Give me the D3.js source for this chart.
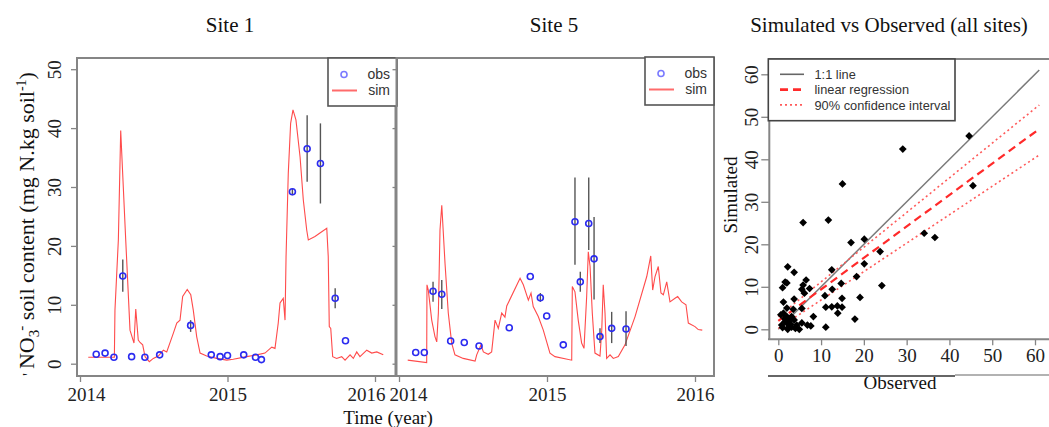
<!DOCTYPE html>
<html><head><meta charset="utf-8">
<script src="https://cdn.jsdelivr.net/npm/d3@7"></script>
<style>
body{margin:0;background:#fff;}
svg{display:block;}
text{font-family:"Liberation Serif","Times New Roman",serif;fill:#222;}
.sans{font-family:"Liberation Sans",Arial,sans-serif;fill:#333;}
</style></head>
<body>
<svg id="c" width="1049" height="427"></svg>
<script>
// ---------------- DATA ----------------
const panelTitles = ["Site 1", "Site 5", "Simulated vs Observed (all sites)"];
const yearTicks = [2014, 2015, 2016];
const concTicks = [0, 10, 20, 30, 40, 50];
const scatterTicks = [0, 10, 20, 30, 40, 50, 60];

// Site 1 observations (year, value, error low, error high)
const obs1Dates  = [2014.11, 2014.17, 2014.23, 2014.29, 2014.35, 2014.44, 2014.54, 2014.75, 2014.89, 2014.95, 2015.00, 2015.11, 2015.19, 2015.23, 2015.44, 2015.54, 2015.63, 2015.73, 2015.80];
const obs1Values = [1.6, 1.8, 1.1, 14.9, 1.2, 1.1, 1.5, 6.5, 1.5, 1.2, 1.4, 1.5, 1.1, 0.7, 29.2, 36.5, 34.0, 11.1, 3.9];
const obs1Low    = [null, null, null, 12.2, null, null, null, 5.4, null, null, null, null, null, null, 28.6, 30.9, 27.2, 9.4, null];
const obs1High   = [null, null, null, 17.7, null, null, null, 7.4, null, null, null, null, null, null, 29.7, 42.2, 40.8, 12.8, null];

// Site 1 simulation
const sim1Dates = [2014.056, 2014.233, 2014.237, 2014.260, 2014.276, 2014.288, 2014.310, 2014.339, 2014.366, 2014.378, 2014.395, 2014.407, 2014.425, 2014.441, 2014.470, 2014.497, 2014.531, 2014.565, 2014.588, 2014.633, 2014.656, 2014.678, 2014.696, 2014.727, 2014.751, 2014.768, 2014.791, 2014.814, 2014.859, 2014.927, 2014.995, 2015.039, 2015.130, 2015.198, 2015.254, 2015.300, 2015.322, 2015.344, 2015.356, 2015.378, 2015.390, 2015.397, 2015.412, 2015.428, 2015.444, 2015.464, 2015.492, 2015.514, 2015.537, 2015.548, 2015.593, 2015.639, 2015.673, 2015.683, 2015.690, 2015.700, 2015.713, 2015.740, 2015.774, 2015.797, 2015.831, 2015.853, 2015.876, 2015.898, 2015.944, 2015.978, 2016.012, 2016.056];
const sim1Values = [1.1, 1.1, 9.1, 21.0, 39.6, 33.0, 21.0, 5.7, 3.5, 9.3, 4.0, 3.6, 3.2, 1.2, 0.35, 0.9, 1.3, 2.3, 2.0, 5.2, 6.9, 7.4, 11.4, 12.6, 11.7, 9.1, 4.6, 1.8, 1.3, 0.9, 0.6, 0.75, 1.2, 1.5, 1.8, 2.8, 2.6, 6.9, 10.3, 11.1, 7.4, 18.2, 32.3, 40.8, 43.1, 41.4, 35.1, 27.8, 22.7, 21.0, 21.6, 22.4, 23.0, 18.2, 6.3, 6.0, 1.2, 0.9, 1.2, 0.6, 1.5, 0.9, 2.0, 1.2, 2.3, 1.8, 2.0, 1.5];

// Site 5 observations
const obs5Dates  = [2014.113, 2014.171, 2014.230, 2014.289, 2014.349, 2014.441, 2014.541, 2014.745, 2014.887, 2014.955, 2014.998, 2015.110, 2015.189, 2015.225, 2015.282, 2015.318, 2015.358, 2015.437, 2015.534];
const obs5Values = [1.9, 1.9, 12.3, 11.8, 3.85, 3.6, 3.0, 6.1, 14.8, 11.2, 8.1, 3.2, 24.1, 13.9, 23.8, 17.8, 4.6, 6.0, 5.9];
const obs5Low    = [null, null, 10.5, 9.3, null, null, null, null, null, 10.5, null, null, 16.8, 12.2, 19.3, 10.9, 3.5, 3.5, 3.0];
const obs5High   = [null, null, 13.9, 14.2, null, null, null, null, null, 12.0, null, null, 31.6, 15.6, 31.6, 24.9, 6.0, 8.8, 8.9];

// Site 5 simulation
const sim5Dates = [2014.059, 2014.187, 2014.189, 2014.198, 2014.221, 2014.243, 2014.255, 2014.266, 2014.277, 2014.289, 2014.311, 2014.333, 2014.356, 2014.378, 2014.434, 2014.514, 2014.525, 2014.554, 2014.570, 2014.603, 2014.626, 2014.649, 2014.671, 2014.694, 2014.716, 2014.728, 2014.818, 2014.840, 2014.874, 2014.892, 2014.907, 2014.941, 2014.975, 2015.020, 2015.054, 2015.167, 2015.171, 2015.189, 2015.211, 2015.234, 2015.250, 2015.268, 2015.279, 2015.291, 2015.306, 2015.324, 2015.358, 2015.370, 2015.380, 2015.392, 2015.403, 2015.426, 2015.448, 2015.482, 2015.527, 2015.595, 2015.674, 2015.701, 2015.714, 2015.730, 2015.752, 2015.770, 2015.786, 2015.809, 2015.831, 2015.865, 2015.883, 2015.910, 2015.939, 2015.955, 2016.000, 2016.022, 2016.049];
const sim5Values = [0.6, 0.2, 13.4, 12.5, 7.4, 4.6, 3.7, 8.6, 22.7, 26.9, 17.0, 8.6, 3.5, 1.5, 0.9, 0.45, 1.5, 3.2, 2.0, 1.6, 2.0, 7.4, 6.0, 8.6, 7.9, 9.8, 14.5, 13.4, 10.8, 12.0, 9.7, 8.0, 5.7, 1.8, 1.2, 0.6, 13.1, 12.2, 7.4, 3.5, 2.6, 11.4, 19.0, 16.5, 8.6, 1.8, 1.3, 5.7, 13.4, 8.6, 0.9, 1.5, 0.9, 1.2, 3.2, 8.0, 14.8, 18.3, 12.5, 14.8, 16.5, 12.0, 11.7, 13.9, 10.5, 11.1, 11.4, 10.5, 10.0, 6.9, 6.3, 5.8, 5.7];

// Scatter: observed vs simulated (all sites)
const scatObserved  = [44.6, 29.1, 15.0, 45.5, 5.8, 11.7, 34.1, 36.6, 20.1, 17.0, 23.8, 20.1, 24.2, 18.3, 12.5, 14.7, 12.6, 10.9, 19.1, 14.9, 11.1, 12.5, 13.8, 14.9, 13.9, 17.9, 11.1, 2.2, 3.7, 1.6, 2.0, 1.0, 5.5, 5.8, 6.5, 7.3, 6.1, 1.2, 3.7, 3.5, 5.5, 8.2, 1.2, 2.0, 0.8, 1.6, 2.3, 3.1, 4.3, 4.9, 6.8, 7.6, 2.2, 2.7, 3.1, 3.7, 0.6, 1.5, 2.5, 1.0, 4.0, 5.5, 2.0, 1.8, 2.9];
const scatSimulated = [45.5, 42.4, 34.2, 33.8, 25.1, 25.7, 22.6, 21.6, 21.2, 20.4, 18.3, 15.4, 10.3, 12.4, 14.0, 10.8, 9.4, 7.9, 7.5, 7.3, 5.2, 5.3, 5.5, 5.2, 3.8, 2.4, 0.5, 14.7, 13.4, 11.1, 10.9, 9.8, 9.4, 10.4, 11.6, 9.6, 8.5, 6.4, 7.1, 4.7, 4.9, 3.0, 3.8, 3.0, 1.0, 1.8, 1.4, 0.5, 1.0, 0.0, 1.0, 0.8, 0.0, 2.2, 3.0, 2.2, 3.4, 2.5, 0.8, 0.4, 0.2, 1.5, 5.0, 2.0, 1.2];

// Reference lines: [intercept, slope] over observed 0..61
const lineRange = [0, 61];
const oneToOne = [0, 1];
const regression = [2.0, 0.74];
const ciUpper = [3.0, 0.816];
const ciLower = [0.2, 0.669];

const legendSite = ["obs", "sim"];
const legendScatter = ["1:1 line", "linear regression", "90% confidence interval"];

// ---------------- DRAW ----------------
const svg = d3.select("#c");
const frameCol = "#858585";
const simCol = "#ff4b4b";
const obsCol = "#2b2bf0";

// titles
const titleX = [230, 554, 889];
svg.selectAll("text.title").data(panelTitles).join("text")
  .attr("class", "title").attr("x", (d, i) => titleX[i]).attr("y", 32)
  .attr("text-anchor", "middle").style("font-size", "21px").style("fill", "#111").text(d => d);

const yConc = d3.scaleLinear().domain([0, 50]).range([363.7, 69.2]);
const x1 = d3.scaleLinear().domain([2014, 2016]).range([80, 375]);
const x5 = d3.scaleLinear().domain([2014, 2016]).range([399, 695]);

function sitePanel(xs, box, obsD, obsV, obsL, obsH, simD, simV, labelDx, showYLabels, legendBox) {
  const g = svg.append("g");
  const simPts = simD.map((d, i) => [d, simV[i]]);
  g.append("path").datum(simPts)
    .attr("fill", "none").attr("stroke", simCol).attr("stroke-width", 1.1)
    .attr("d", d3.line().x(d => xs(d[0])).y(d => yConc(d[1])));
  const obs = obsD.map((d, i) => ({d, v: obsV[i], lo: obsL[i], hi: obsH[i]}));
  g.selectAll("line.err").data(obs.filter(o => o.lo != null)).join("line")
    .attr("x1", o => xs(o.d)).attr("x2", o => xs(o.d))
    .attr("y1", o => yConc(o.lo)).attr("y2", o => yConc(o.hi))
    .attr("stroke", "#555").attr("stroke-width", 1.4);
  g.selectAll("circle.obs").data(obs).join("circle")
    .attr("cx", o => xs(o.d)).attr("cy", o => yConc(o.v)).attr("r", 3)
    .attr("fill", "none").attr("stroke", obsCol).attr("stroke-width", 1.6);
  g.append("rect").attr("x", box[0]).attr("y", box[1]).attr("width", box[2] - box[0]).attr("height", box[3] - box[1])
    .attr("fill", "none").attr("stroke", frameCol).attr("stroke-width", 2);
  const xa = g.append("g").attr("transform", `translate(0,${box[3]})`)
    .call(d3.axisBottom(xs).tickValues(yearTicks).tickFormat(d3.format("d")).tickSize(6).tickSizeOuter(0));
  xa.select(".domain").remove();
  xa.selectAll("line").attr("stroke", frameCol).attr("stroke-width", 1.3);
  xa.selectAll("text").style("font-size", "19px").style("font-family", "Liberation Serif").attr("fill", "#222")
    .attr("y", 12).attr("dx", (d, i) => labelDx[i]);
  const ya = g.append("g").attr("transform", `translate(${box[0]},0)`)
    .call(d3.axisLeft(yConc).tickValues(concTicks).tickSize(showYLabels ? 6 : 4).tickSizeOuter(0));
  ya.select(".domain").remove();
  ya.selectAll("line").attr("stroke", frameCol).attr("stroke-width", 1.3);
  if (showYLabels) {
    ya.selectAll("text").style("font-size", "19px").style("font-family", "Liberation Serif").attr("fill", "#222")
      .attr("transform", "rotate(-90)").attr("x", 0).attr("y", -16.5).attr("dy", 0).attr("text-anchor", "middle");
  } else ya.selectAll("text").remove();
  const [lx, ly, lw, lh] = legendBox;
  const lg = g.append("g");
  lg.append("rect").attr("x", lx).attr("y", ly).attr("width", lw).attr("height", lh)
    .attr("fill", "#fff").attr("stroke", "#555").attr("stroke-width", 1.6);
  lg.append("circle").attr("cx", lx + 16).attr("cy", ly + 16.5).attr("r", 3)
    .attr("fill", "none").attr("stroke", "#7a7aff").attr("stroke-width", 1.6);
  lg.append("line").attr("x1", lx + 4).attr("x2", lx + 29).attr("y1", ly + 32.5).attr("y2", ly + 32.5)
    .attr("stroke", "#ff6b6b").attr("stroke-width", 2);
  lg.selectAll("text").data(legendSite).join("text").attr("class", "sans")
    .attr("x", lx + 62).attr("y", (d, i) => ly + 21 + i * 15.5).attr("text-anchor", "end")
    .style("font-size", "14px").text(d => d);
  return g;
}

sitePanel(x1, [77, 58, 395.5, 376], obs1Dates, obs1Values, obs1Low, obs1High, sim1Dates, sim1Values, [6, 0, -9], true, [328, 58, 69, 48]);
sitePanel(x5, [396.5, 58, 714, 376], obs5Dates, obs5Values, obs5Low, obs5High, sim5Dates, sim5Values, [9, 0, 0], false, [645, 57, 69, 48]);

// Y label site 1
const yl = svg.append("text").attr("transform", "translate(34,224) rotate(-90)")
  .attr("text-anchor", "middle").style("font-size", "22px").style("fill", "#111");
yl.append("tspan").style("font-size", "16px").text("' ");
yl.append("tspan").text("NO");
yl.append("tspan").attr("dy", 5).style("font-size", "15px").text("3");
yl.append("tspan").attr("dy", -13).attr("dx", -1).style("font-size", "15px").text("-");
yl.append("tspan").attr("dy", 8).text(" soil content (mg N.kg soil");
yl.append("tspan").attr("dy", -8).style("font-size", "14px").text("-1");
yl.append("tspan").attr("dy", 8).text(")");

// X label
svg.append("text").attr("x", 388).attr("y", 424).attr("text-anchor", "middle")
  .style("font-size", "19px").style("fill", "#111").text("Time (year)");

// ---------------- SCATTER ----------------
const xs = d3.scaleLinear().domain([0, 60]).range([778.3, 1035]);
const ys = d3.scaleLinear().domain([0, 60]).range([329.3, 74.3]);
const sg = svg.append("g");

function refLine(coef, stroke, width, dash) {
  const pts = lineRange.map(x => [x, coef[0] + coef[1] * x]);
  sg.append("line").attr("x1", xs(pts[0][0])).attr("y1", ys(pts[0][1]))
    .attr("x2", xs(pts[1][0])).attr("y2", ys(pts[1][1]))
    .attr("stroke", stroke).attr("stroke-width", width).attr("stroke-dasharray", dash);
}
refLine(oneToOne, "#7a7a7a", 1.5, null);
refLine(ciUpper, "#ff5a5a", 1.6, "2,3");
refLine(ciLower, "#ff5a5a", 1.6, "2,3");
refLine(regression, "#ff2a2a", 2.2, "8,5");

const scat = scatObserved.map((o, i) => [o, scatSimulated[i]]);
sg.selectAll("path.pt").data(scat).join("path")
  .attr("d", d3.symbol(d3.symbolSquare, 30))
  .attr("transform", d => `translate(${xs(d[0])},${ys(d[1])}) rotate(45)`)
  .attr("fill", "#000");

sg.append("line").attr("x1", 768).attr("x2", 1049).attr("y1", 59).attr("y2", 59).attr("stroke", frameCol).attr("stroke-width", 2);
sg.append("line").attr("x1", 769.3).attr("x2", 769.3).attr("y1", 59).attr("y2", 339.5).attr("stroke", frameCol).attr("stroke-width", 2);
sg.append("line").attr("x1", 768).attr("x2", 1049).attr("y1", 339.3).attr("y2", 339.3).attr("stroke", frameCol).attr("stroke-width", 2);

const sxa = sg.append("g").attr("transform", "translate(0,339.3)")
  .call(d3.axisBottom(xs).tickValues(scatterTicks).tickSize(6).tickSizeOuter(0));
sxa.select(".domain").remove();
sxa.selectAll("line").attr("stroke", frameCol).attr("stroke-width", 1.3);
sxa.selectAll("text").style("font-size", "19px").style("font-family", "Liberation Serif").attr("fill", "#222").attr("y", 9);

const sya = sg.append("g").attr("transform", "translate(769.3,0)")
  .call(d3.axisLeft(ys).tickValues(scatterTicks).tickSize(8).tickSizeOuter(0));
sya.select(".domain").remove();
sya.selectAll("line").attr("stroke", frameCol).attr("stroke-width", 1.3);
sya.selectAll("text").style("font-size", "19px").style("font-family", "Liberation Serif").attr("fill", "#222")
  .attr("transform", "rotate(-90)").attr("x", 0).attr("y", -11.5).attr("dy", 0).attr("text-anchor", "middle");

svg.append("text").attr("transform", "translate(737,195) rotate(-90)").attr("text-anchor", "middle")
  .style("font-size", "19px").style("fill", "#111").text("Simulated");
svg.append("text").attr("x", 900).attr("y", 388.5).attr("text-anchor", "middle")
  .style("font-size", "19px").style("fill", "#111").text("Observed");
svg.append("line").attr("x1", 768).attr("x2", 955).attr("y1", 376).attr("y2", 376).attr("stroke", "#666").attr("stroke-width", 1.8);
svg.append("line").attr("x1", 955).attr("x2", 1049).attr("y1", 375).attr("y2", 375).attr("stroke", "#999").attr("stroke-width", 1.5);

const sl = svg.append("g");
sl.append("rect").attr("x", 768.3).attr("y", 59).attr("width", 186.7).attr("height", 61.7)
  .attr("fill", "#fff").attr("stroke", "#444").attr("stroke-width", 1.6);
const legStyles = [["#666", 1.6, null], ["#ff2a2a", 2.6, "8,5"], ["#ff5a5a", 1.6, "2,3"]];
sl.selectAll("line.leg").data(legendScatter).join("line")
  .attr("x1", 780).attr("x2", 804).attr("y1", (d, i) => 74.3 + i * 15.3).attr("y2", (d, i) => 74.3 + i * 15.3)
  .attr("stroke", (d, i) => legStyles[i][0]).attr("stroke-width", (d, i) => legStyles[i][1])
  .attr("stroke-dasharray", (d, i) => legStyles[i][2]);
sl.selectAll("text").data(legendScatter).join("text").attr("class", "sans")
  .attr("x", 814.5).attr("y", (d, i) => 79 + i * 15.3).style("font-size", "12.8px").text(d => d);
</script>
</body></html>
